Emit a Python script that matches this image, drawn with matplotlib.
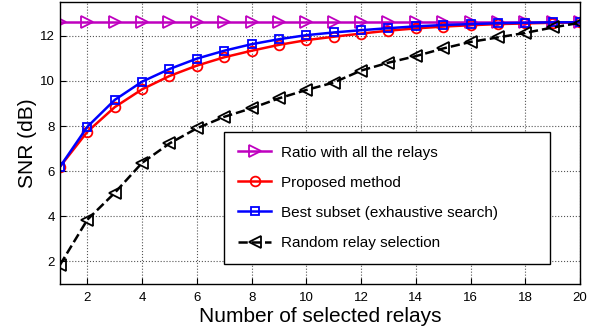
import matplotlib.pyplot as plt

plt.rcParams['font.family'] = ['Liberation Sans', 'DejaVu Sans']

relays = list(range(1, 21))
snr_all = [12.6] * 20
snr_proposed = [6.2, 7.75, 8.84, 9.63, 10.22, 10.68, 11.05, 11.34, 11.6, 11.81,
                11.96, 12.1, 12.23, 12.33, 12.41, 12.47, 12.52, 12.55, 12.58, 12.6]
snr_best = [6.2, 7.97, 9.16, 9.97, 10.53, 10.99, 11.34, 11.63, 11.85, 12.03,
            12.15, 12.25, 12.34, 12.42, 12.48, 12.52, 12.56, 12.58, 12.6, 12.6]
snr_random = [1.85, 3.85, 5.04, 6.37, 7.23, 7.9, 8.41, 8.79, 9.23, 9.6,
              9.93, 10.46, 10.81, 11.1, 11.44, 11.73, 11.93, 12.13, 12.37, 12.58]

fig = plt.figure(figsize=(6.02, 3.33), dpi=100)
ax = fig.add_axes([60 / 602, 1 - 284 / 333, 520 / 602, 282 / 333])

ax.plot(relays, snr_all, color='#bf00bf', marker='>', mfc='none', ms=8, mew=1.3, lw=1.8,
        label='Ratio with all the relays')
ax.plot(relays, snr_proposed, color='red', marker='o', mfc='none', ms=7, mew=1.3, lw=1.8,
        label='Proposed method')
ax.plot(relays, snr_best, color='blue', marker='s', mfc='none', ms=6, mew=1.3, lw=1.8,
        label='Best subset (exhaustive search)')
ax.plot(relays, snr_random, color='black', ls='--', marker='<', mfc='none', ms=8, mew=1.3, lw=1.8,
        label='Random relay selection')

ax.set_xlim(1, 20)
ax.set_ylim(1, 13.5)
ax.set_xticks(range(2, 21, 2))
ax.set_yticks(range(2, 13, 2))
ax.grid(True, ls=':', color='#555555', lw=0.8)
ax.tick_params(direction='in', labelsize=9.5, length=4)
ax.tick_params(axis='x', pad=6)
for s in ax.spines.values():
    s.set_linewidth(1.0)

ax.set_xlabel('Number of selected relays', fontsize=15, labelpad=2)
ax.set_ylabel('SNR (dB)', fontsize=15, labelpad=2)

# legend box spans the same area as in the original
x0, x1 = 224 / 602, 550 / 602
y0, y1 = 1 - 260 / 333, 1 - 132 / 333
leg = ax.legend(loc='upper left', bbox_to_anchor=(x0, y0, x1 - x0, y1 - y0), bbox_transform=fig.transFigure,
                mode='expand', borderaxespad=0, fontsize=11, fancybox=False, edgecolor='black', framealpha=1,
                handlelength=2.2, handletextpad=0.6, labelspacing=1.05, borderpad=0.9)
leg.get_frame().set_linewidth(1.0)

fig.savefig('out.png', dpi=100)
